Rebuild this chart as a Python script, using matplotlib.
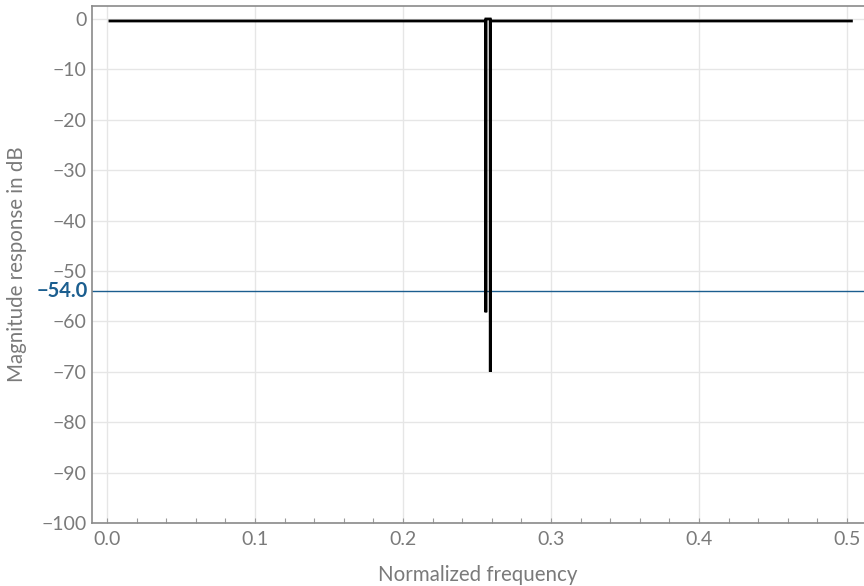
import numpy as np
import matplotlib
matplotlib.use("Agg")
import matplotlib.pyplot as plt
from matplotlib.ticker import MultipleLocator
import matplotlib.transforms as mtransforms

# magnitude response of a narrow notch pair
freq = [0.002, 0.2556, 0.2559, 0.2560, 0.2561, 0.2589, 0.2590, 0.2591, 0.2594, 0.503]
mag_db = [-0.4, -0.4, 0.0, -58.2, 0.0, 0.0, -70.0, 0.0, -0.4, -0.4]
threshold_db = -54.0

xlabel = "Normalized frequency"
ylabel = "Magnitude response in dB"

plt.rcParams['font.family'] = ['Lato', 'DejaVu Sans']
grey = '#7a7a7a'
blue = '#1b5e8f'

fig = plt.figure(figsize=(8.64, 5.86), dpi=100)
ax = fig.add_axes([0.1065, 0.1075, 0.8935, 0.8825])

ax.plot(freq, mag_db, color='black', lw=2.0, solid_joinstyle='miter', zorder=3)
ax.axhline(threshold_db, color=blue, lw=1.0, zorder=2)

ax.set_xlim(-0.0101, 0.5115)
ax.set_ylim(-100, 2.6)

ax.xaxis.set_major_locator(MultipleLocator(0.1))
ax.xaxis.set_minor_locator(MultipleLocator(0.02))
ax.yaxis.set_major_locator(MultipleLocator(10))
ax.xaxis.set_major_formatter(matplotlib.ticker.FormatStrFormatter('%.1f'))

ax.grid(True, which='major', color='#e6e6e6', lw=1.0, zorder=0)
ax.set_axisbelow(True)

for side in ['left', 'bottom', 'top']:
    ax.spines[side].set_color('#8a8a8a')
    ax.spines[side].set_linewidth(1.2)
ax.spines['right'].set_visible(False)

ax.tick_params(axis='x', which='both', direction='in', length=3.5, width=0.8,
               color='#9a9a9a', labelcolor=grey, labelsize=14, pad=6)
ax.tick_params(axis='y', which='both', length=0, labelcolor=grey,
               labelsize=14, pad=4)

trans = mtransforms.blended_transform_factory(ax.transAxes, ax.transData)
ax.text(-0.005, threshold_db, "\u221254.0", transform=trans, ha='right',
        va='center', color=blue, fontsize=14.5, fontweight='bold')

ax.set_xlabel(xlabel, color=grey, fontsize=14.8, labelpad=12)
ax.set_ylabel(ylabel, color=grey, fontsize=14.8, labelpad=10)

fig.savefig("out.png", dpi=100)
